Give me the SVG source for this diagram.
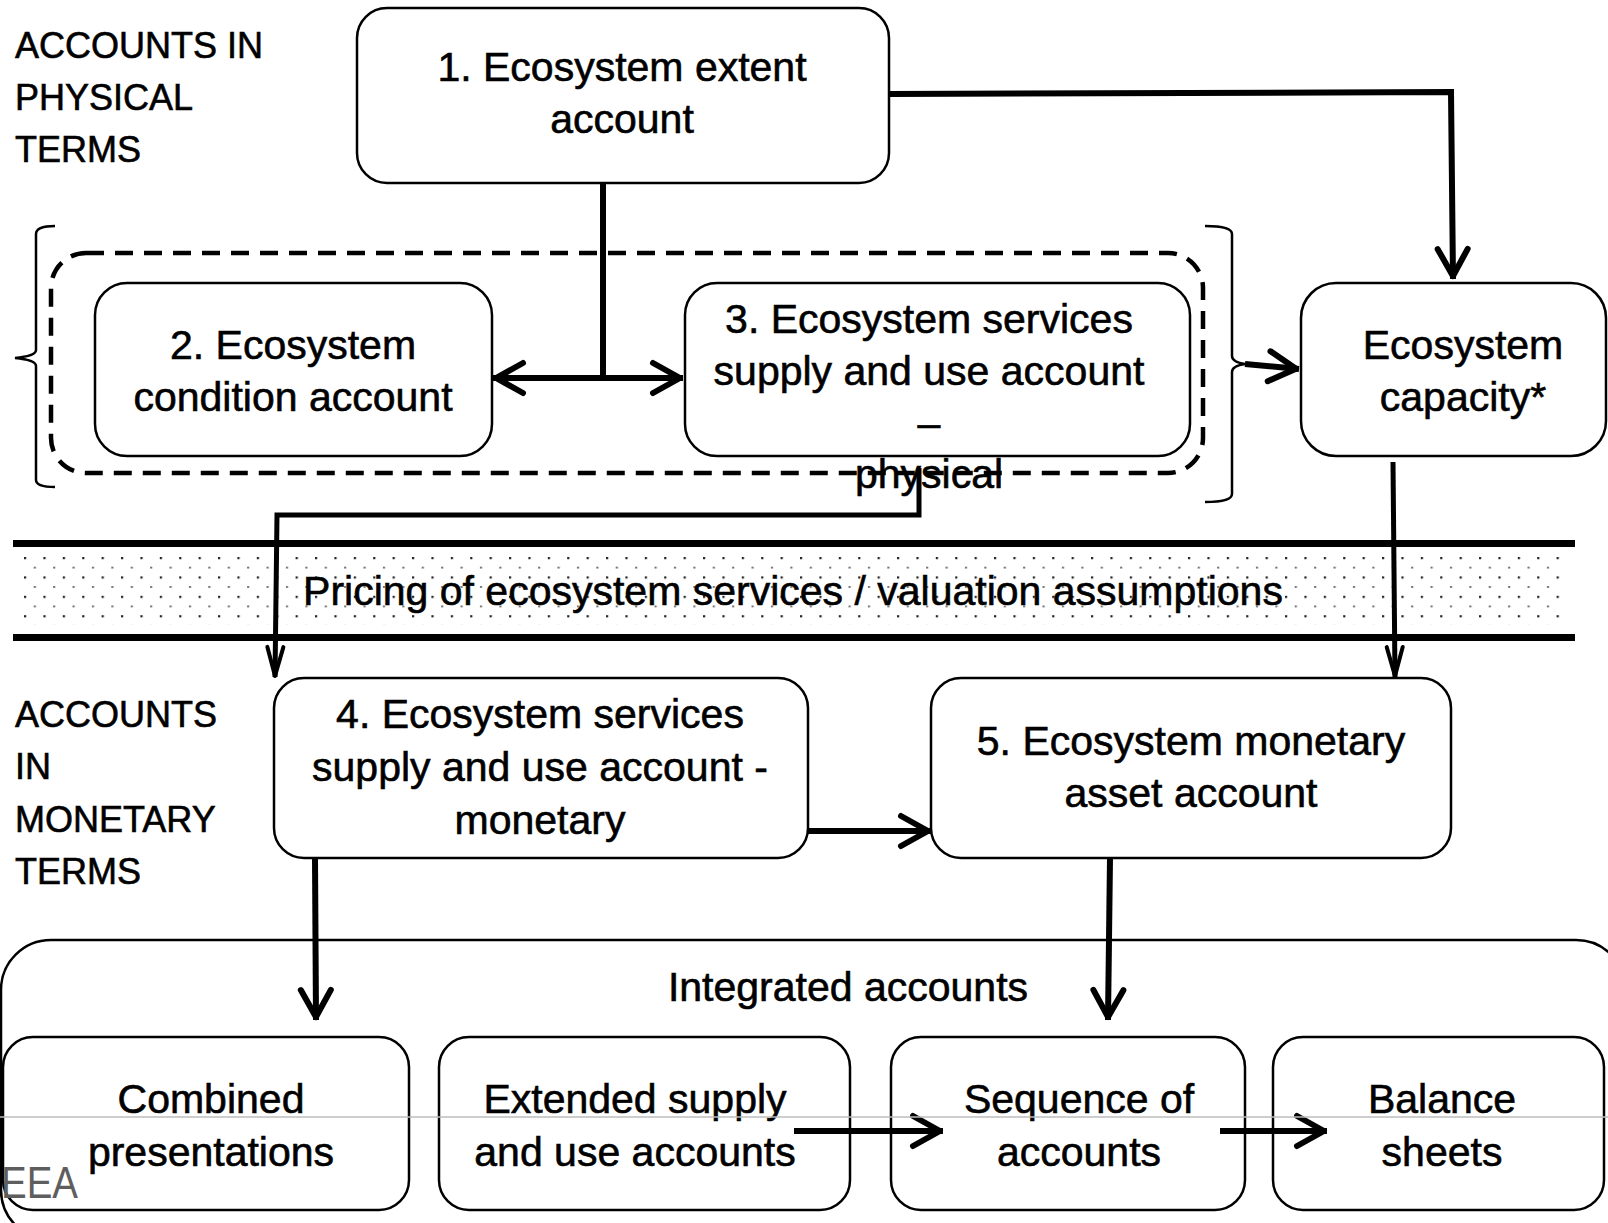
<svg xmlns="http://www.w3.org/2000/svg" width="1608" height="1223" viewBox="0 0 1608 1223">
<defs>
<style>
.box{fill:#fff;stroke:#000;stroke-width:2.5}
.t{font-family:"Liberation Sans",Arial,sans-serif;font-size:41px;fill:#000;stroke:#000;stroke-width:0.6;text-anchor:middle}
.lbl{font-family:"Liberation Sans",Arial,sans-serif;font-size:36px;fill:#000;stroke:#000;stroke-width:0.6}
.c{fill:none;stroke:#000;stroke-width:6;stroke-linejoin:miter}
.cn{fill:none;stroke:#000;stroke-width:5}
.thin{fill:none;stroke:#000;stroke-width:2.5}
</style>
<marker id="arr" markerUnits="userSpaceOnUse" markerWidth="40" markerHeight="40" viewBox="-36 -20 40 40" refX="0" refY="0" orient="auto-start-reverse">
<path d="M-30,-15 L-3,0 L-30,15" fill="none" stroke="#000" stroke-width="6" stroke-linecap="round" stroke-linejoin="round"/>
</marker>
<marker id="narr" markerUnits="userSpaceOnUse" markerWidth="40" markerHeight="30" viewBox="-36 -15 40 30" refX="0" refY="0" orient="auto">
<path d="M-30,-8 L-1,0 L-30,8" fill="none" stroke="#000" stroke-width="4" stroke-linecap="round" stroke-linejoin="round"/>
</marker>
<pattern id="dots" patternUnits="userSpaceOnUse" x="24" y="557" width="19.4" height="19.4">
<rect x="0" y="0" width="2.2" height="2.2" fill="#222"/>
<rect x="9.7" y="9.9" width="2.2" height="1.4" fill="#444"/>
</pattern>
</defs>
<rect width="1608" height="1223" fill="#fff"/>

<g id="labels">
<text class="lbl" x="15" y="58">ACCOUNTS IN</text>
<text class="lbl" x="15" y="110">PHYSICAL</text>
<text class="lbl" x="15" y="162">TERMS</text>
<text class="lbl" x="15" y="727">ACCOUNTS</text>
<text class="lbl" x="15" y="779">IN</text>
<text class="lbl" x="15" y="832">MONETARY</text>
<text class="lbl" x="15" y="884">TERMS</text>
</g>

<g id="brackets">
<path class="thin" d="M55,226 Q36,226 36,234 L36,350 Q36,356 15,358 Q36,360 36,366 L36,480 Q36,487 55,487"/>
<path class="thin" d="M1205,226 Q1232,226 1232,234 L1232,356 Q1232,362 1245,364 Q1232,366 1232,372 L1232,494 Q1232,502 1205,502"/>
</g>

<g id="physical-group">
<rect x="51" y="253" width="1152" height="220" rx="35" fill="none" stroke="#000" stroke-width="4.5" stroke-dasharray="18 11"/>
</g>

<g id="pricing">
<rect x="22" y="553" width="1542" height="72" fill="url(#dots)"/>
<line x1="13" y1="543.5" x2="1575" y2="543.5" stroke="#000" stroke-width="7"/>
<line x1="13" y1="637.5" x2="1575" y2="637.5" stroke="#000" stroke-width="7"/>
<text class="t" x="793" y="605">Pricing of ecosystem services / valuation assumptions</text>
</g>

<g id="integrated">
<rect x="1" y="940" width="1625" height="300" rx="50" fill="none" stroke="#000" stroke-width="2.5"/>
<text class="t" x="848" y="1001">Integrated accounts</text>
</g>

<g id="n1">
<rect class="box" x="357" y="8" width="532" height="175" rx="30"/>
<text class="t" x="622" y="81">1. Ecosystem extent</text>
<text class="t" x="622" y="133">account</text>
</g>
<g id="n2">
<rect class="box" x="95" y="283" width="397" height="173" rx="32"/>
<text class="t" x="293" y="359">2. Ecosystem</text>
<text class="t" x="293" y="411">condition account</text>
</g>
<g id="n3">
<rect class="box" x="685" y="283" width="505" height="173" rx="32"/>
<text class="t" x="929" y="333">3. Ecosystem services</text>
<text class="t" x="929" y="385">supply and use account</text>
<text class="t" x="929" y="437">–</text>
<text class="t" x="929" y="488">physical</text>
</g>
<g id="ncap">
<rect class="box" x="1301" y="283" width="305" height="173" rx="35"/>
<text class="t" x="1463" y="359">Ecosystem</text>
<text class="t" x="1463" y="411">capacity*</text>
</g>
<g id="n4">
<rect class="box" x="274" y="678" width="534" height="180" rx="30"/>
<text class="t" x="540" y="728">4. Ecosystem services</text>
<text class="t" x="540" y="781">supply and use account -</text>
<text class="t" x="540" y="834">monetary</text>
</g>
<g id="n5">
<rect class="box" x="931" y="678" width="520" height="180" rx="30"/>
<text class="t" x="1191" y="755">5. Ecosystem monetary</text>
<text class="t" x="1191" y="807">asset account</text>
</g>
<g id="ncomb">
<rect class="box" x="3" y="1037" width="406" height="173" rx="30"/>
<text class="t" x="211" y="1113">Combined</text>
<text class="t" x="211" y="1166">presentations</text>
</g>
<g id="next">
<rect class="box" x="439" y="1037" width="411" height="173" rx="30"/>
<text class="t" x="635" y="1113">Extended supply</text>
<text class="t" x="635" y="1166">and use accounts</text>
</g>
<g id="nseq">
<rect class="box" x="891" y="1037" width="354" height="173" rx="30"/>
<text class="t" x="1079" y="1113">Sequence of</text>
<text class="t" x="1079" y="1166">accounts</text>
</g>
<g id="nbal">
<rect class="box" x="1273" y="1037" width="331" height="173" rx="30"/>
<text class="t" x="1442" y="1113">Balance</text>
<text class="t" x="1442" y="1166">sheets</text>
</g>

<g id="connectors">
<path class="c" d="M889,94 L1451,92 L1453,279" marker-end="url(#arr)"/>
<path class="c" d="M603,184 L603,378"/>
<path class="c" d="M493,378 L683,378" marker-start="url(#arr)" marker-end="url(#arr)"/>
<path class="c" d="M1245,364 L1299,369" marker-end="url(#arr)"/>
<path class="cn" d="M919,468 L919,515 L277,515 L275,677" marker-end="url(#narr)"/>
<path class="cn" d="M1393,462 L1395,677" marker-end="url(#narr)"/>
<path class="c" d="M808,831 L931,831" marker-end="url(#arr)"/>
<path class="c" d="M315,858 L316,1020" marker-end="url(#arr)"/>
<path class="c" d="M1110,858 L1108,1020" marker-end="url(#arr)"/>
<path class="c" d="M794,1131 L943,1131" marker-end="url(#arr)"/>
<path class="c" d="M1220,1131 L1327,1131" marker-end="url(#arr)"/>
</g>

<g id="overlay">
<line x1="0" y1="1117" x2="1608" y2="1117" stroke="#bdbdbd" stroke-width="1.5"/>
<text x="1" y="1198" font-family="Liberation Sans,Arial,sans-serif" font-size="45" fill="#5e5e5e" textLength="77" lengthAdjust="spacingAndGlyphs">EEA</text>
</g>
</svg>
